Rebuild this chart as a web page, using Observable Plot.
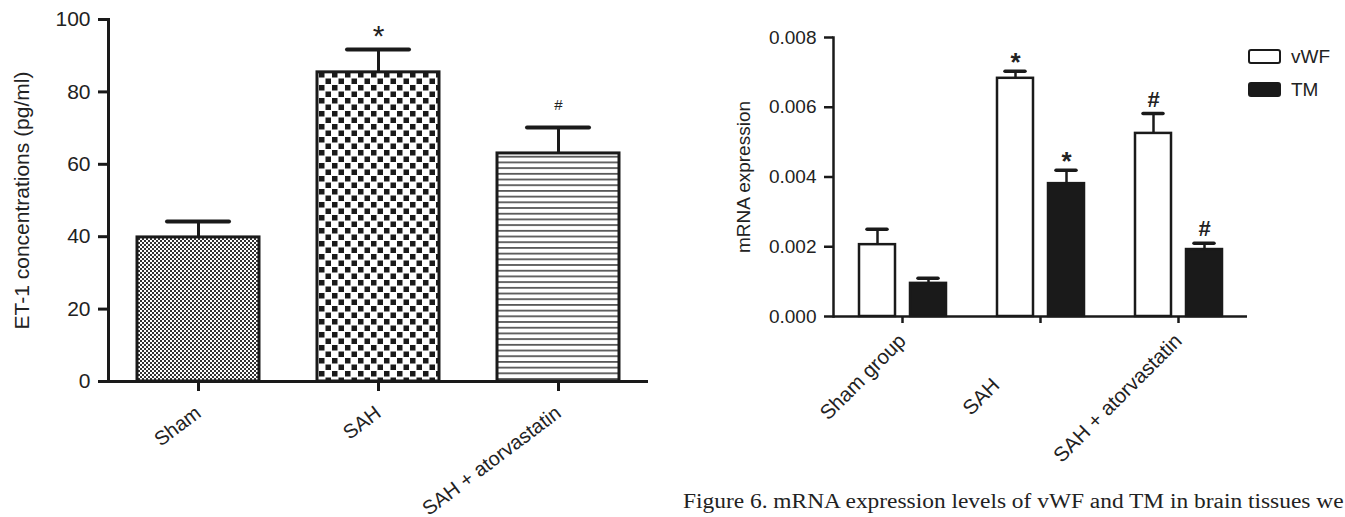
<!DOCTYPE html>
<html><head><meta charset="utf-8">
<script src="https://cdn.jsdelivr.net/npm/d3@7"></script>
<script src="https://cdn.jsdelivr.net/npm/@observablehq/plot@0.6"></script>
<style>
html,body{margin:0;padding:0;background:#fff;}
body{width:1345px;height:517px;overflow:hidden;position:relative;font-family:"Liberation Sans",Arial,sans-serif;color:#222;}
#left{position:absolute;left:0;top:0;}
#right{position:absolute;left:660px;top:0;}
#legend{position:absolute;left:1248px;top:46px;font-size:19px;line-height:1;}
#legend .row{display:flex;align-items:center;height:20px;margin-bottom:13px;}
#legend .box{width:29px;height:11px;border:2.5px solid #1a1a1a;border-radius:3px;margin-right:10px;}
#caption{position:absolute;left:683px;top:491px;font-family:"Liberation Serif","Times New Roman",serif;font-size:20px;line-height:1;white-space:nowrap;color:#222;transform:scaleX(1.17);transform-origin:0 0;}
svg{overflow:visible;}
</style></head><body>
<div id="left"></div><div id="right"></div><div id="legend"></div><div id="caption"></div>
<script>
// ---- Left panel data (ET-1) ----
const leftGroups = ["Sham", "SAH", "SAH + atorvastatin"];
const et1Mean = [39.8, 85.4, 63.0];
const et1Err = [4.4, 6.3, 7.2];
const et1Sig = ["", "*", "#"];
const leftTicks = [0, 20, 40, 60, 80, 100];
const leftYLabel = "ET-1 concentrations (pg/ml)";

// ---- Right panel data (mRNA) ----
const rightGroups = ["Sham group", "SAH", "SAH + atorvastatin"];
const seriesNames = ["vWF", "TM"];
const vwfMean = [0.00206, 0.00683, 0.00525];
const vwfErr = [0.00044, 0.00020, 0.00057];
const vwfSig = ["", "*", "#"];
const tmMean = [0.00095, 0.00381, 0.00192];
const tmErr = [0.00015, 0.00038, 0.00018];
const tmSig = ["", "*", "#"];
const rightTicks = [0, 0.002, 0.004, 0.006, 0.008];
const rightYLabel = "mRNA expression";

const captionText = "Figure 6. mRNA expression levels of vWF and TM in brain tissues we";

const INK = "#1a1a1a";

function addDefs(svg, html) {
  const defs = document.createElementNS("http://www.w3.org/2000/svg", "defs");
  defs.innerHTML = html;
  svg.insertBefore(defs, svg.firstChild);
}

// ---- Left plot ----
const leftData = leftGroups.map((g, i) => ({group: g, mean: et1Mean[i], top: et1Mean[i] + et1Err[i], sig: et1Sig[i]}));
const leftPlot = Plot.plot({
  width: 660, height: 517,
  marginLeft: 108, marginRight: 12, marginTop: 19, marginBottom: 136,
  style: {fontFamily: "'Liberation Sans', Arial, sans-serif", fontSize: "21px", color: "#222", background: "transparent", overflow: "visible"},
  x: {domain: leftGroups, paddingInner: 0.32, paddingOuter: 0.16, axis: null},
  y: {domain: [0, 100], axis: null},
  color: {domain: leftGroups, range: ["url(#pSham)", "url(#pSah)", "url(#pAtor)"]},
  marks: [
    Plot.barY(leftData, {x: "group", y: "mean", fill: "group", stroke: INK, strokeWidth: 3}),
    Plot.ruleX(leftData, {x: "group", y1: "mean", y2: "top", stroke: INK, strokeWidth: 3}),
    Plot.tickY(leftData, {x: "group", y: "top", insetLeft: 30, insetRight: 30, stroke: INK, strokeWidth: 4, strokeLinecap: "round"}),
    Plot.text(leftData.filter(d => d.sig === "*"), {x: "group", y: "top", text: "sig", fontSize: 30, dy: -13, lineAnchor: "middle", fill: "#222"}),
    Plot.text(leftData.filter(d => d.sig === "#"), {x: "group", y: "top", text: "sig", fontSize: 15, dy: -22, lineAnchor: "middle", fill: "#222"}),
    Plot.ruleY([0], {stroke: INK, strokeWidth: 3}),
    Plot.frame({anchor: "left", stroke: INK, strokeWidth: 3}),
    Plot.axisY({ticks: leftTicks, tickSize: 10, tickPadding: 8, stroke: INK, strokeWidth: 3, fill: "#222",
      label: leftYLabel, labelArrow: "none", labelAnchor: "center", labelOffset: 94}),
    Plot.axisX({tickSize: 10, tickPadding: 19, tickRotate: -37, fontSize: 20, stroke: INK, strokeWidth: 3, fill: "#222", label: null})
  ]
});
addDefs(leftPlot,
  '<pattern id="pSham" width="4" height="4" patternUnits="userSpaceOnUse">' +
    '<rect width="4" height="4" fill="#fff"/><rect width="2" height="2" fill="#333"/><rect x="2" y="2" width="2" height="2" fill="#333"/></pattern>' +
  '<pattern id="pSah" width="13" height="13" patternUnits="userSpaceOnUse">' +
    '<rect width="13" height="13" fill="#fff"/><rect x="0.5" y="0.5" width="5.5" height="5.5" fill="#1a1a1a"/><rect x="7" y="7" width="5.5" height="5.5" fill="#1a1a1a"/></pattern>' +
  '<pattern id="pAtor" width="6" height="5.7" patternUnits="userSpaceOnUse">' +
    '<rect width="6" height="5.7" fill="#fff"/><rect y="2" width="6" height="1.6" fill="#444"/></pattern>');
document.getElementById("left").appendChild(leftPlot);

// ---- Right plot ----
const rightData = rightGroups.flatMap((g, i) => [
  {group: g, series: seriesNames[0], mean: vwfMean[i], top: vwfMean[i] + vwfErr[i], sig: vwfSig[i]},
  {group: g, series: seriesNames[1], mean: tmMean[i], top: tmMean[i] + tmErr[i], sig: tmSig[i]}
]);
// In the source figure the middle group label sits lower-left of its tick (padded label)
const fxLabel = d => d === "SAH" ? d + "\u00a0".repeat(11) : d;
const rightPlot = Plot.plot({
  width: 685, height: 517,
  marginLeft: 172, marginRight: 97, marginTop: 37, marginBottom: 201,
  style: {fontFamily: "'Liberation Sans', Arial, sans-serif", fontSize: "19px", color: "#222", background: "transparent", overflow: "visible"},
  fx: {domain: rightGroups, padding: 0, axis: null},
  x: {domain: seriesNames, paddingInner: 0.3, paddingOuter: 0.48, axis: null},
  y: {domain: [0, 0.008], axis: null},
  color: {domain: seriesNames, range: ["#fff", INK]},
  marks: [
    Plot.barY(rightData, {fx: "group", x: "series", y: "mean", fill: "series", stroke: INK, strokeWidth: 2.5}),
    Plot.ruleX(rightData, {fx: "group", x: "series", y1: "mean", y2: "top", stroke: INK, strokeWidth: 2.5}),
    Plot.tickY(rightData, {fx: "group", x: "series", y: "top", insetLeft: 8, insetRight: 8, stroke: INK, strokeWidth: 3.5, strokeLinecap: "round"}),
    Plot.text(rightData.filter(d => d.sig === "*"), {fx: "group", x: "series", y: "top", text: "sig", fontSize: 26, fontWeight: "bold", dy: -9, lineAnchor: "middle", fill: "#222"}),
    Plot.text(rightData.filter(d => d.sig === "#"), {fx: "group", x: "series", y: "top", text: "sig", fontSize: 22, fontWeight: "bold", dy: -14, lineAnchor: "middle", fill: "#222"}),
    Plot.ruleY([0], {stroke: INK, strokeWidth: 2.5}),
    Plot.frame({anchor: "left", facetAnchor: "left", stroke: INK, strokeWidth: 2.5}),
    Plot.axisY({ticks: rightTicks, tickFormat: d3.format(".3f"), tickSize: 9, tickPadding: 8, stroke: INK, strokeWidth: 2.5, fill: "#222",
      label: rightYLabel, labelArrow: "none", labelAnchor: "center", labelOffset: 97}),
    Plot.axisFx({anchor: "bottom", tickSize: 7, tickPadding: 14, tickRotate: -45, fontSize: 20.5, tickFormat: fxLabel, stroke: INK, strokeWidth: 2.5, fill: "#222", label: null})
  ]
});
document.getElementById("right").appendChild(rightPlot);

// ---- Legend ----
const legend = document.getElementById("legend");
seriesNames.forEach((s, i) => {
  const row = document.createElement("div");
  row.className = "row";
  const box = document.createElement("span");
  box.className = "box";
  box.style.background = i === 0 ? "#fff" : INK;
  const label = document.createElement("span");
  label.textContent = s;
  row.appendChild(box); row.appendChild(label);
  legend.appendChild(row);
});

document.getElementById("caption").textContent = captionText;
</script>
</body></html>
